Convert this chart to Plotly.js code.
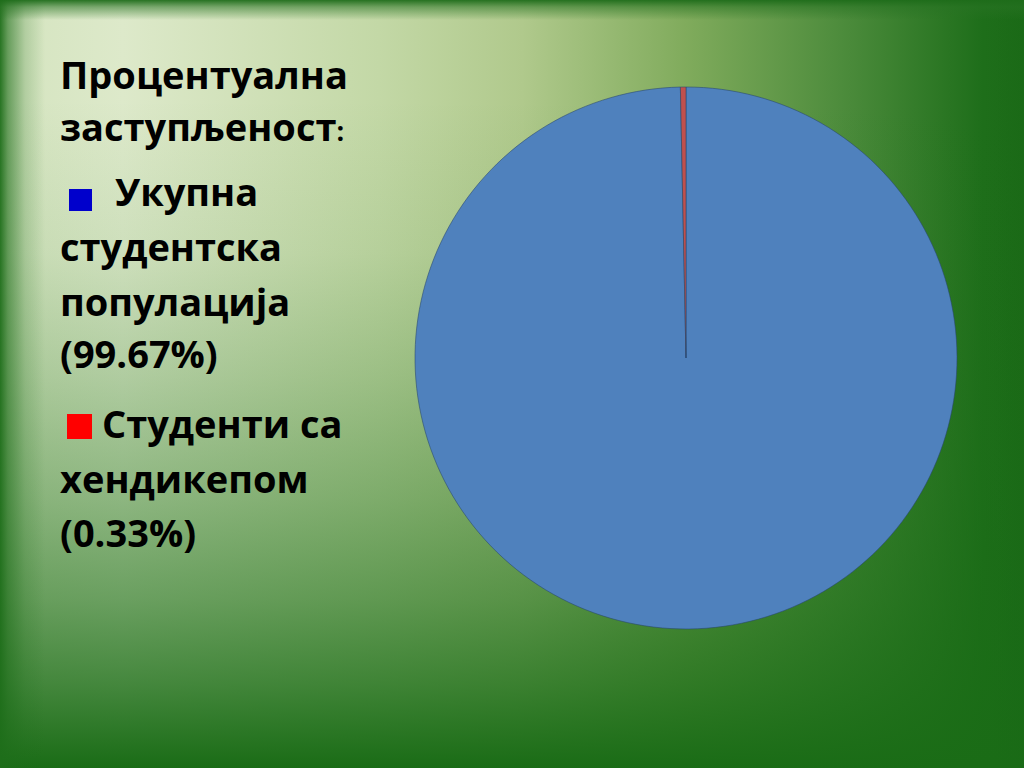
<!DOCTYPE html>
<html>
<head>
<meta charset="utf-8">
<script src="https://cdn.plot.ly/plotly-3.0.1.min.js"></script>
<style>
html,body{margin:0;padding:0;}
#chart{width:1024px;height:768px;
background:
 linear-gradient(to bottom, rgba(30,108,26,0.95) 0px, rgba(40,115,35,0.55) 7px, rgba(40,115,35,0) 20px),
 linear-gradient(to right, rgba(30,110,26,0.95) 0px, rgba(30,110,26,0.6) 8px, rgba(30,110,26,0.2) 25px, rgba(30,110,26,0) 45px),
 linear-gradient(to left, rgba(25,105,22,0.5) 0px, rgba(25,105,22,0) 30px),
 linear-gradient(to bottom, rgba(26,108,22,0) 13%, rgba(26,108,22,0.08) 33%, rgba(26,108,22,0.23) 49%, rgba(26,108,22,0.41) 65%, rgba(26,108,22,0.59) 78%, rgba(26,108,22,0.78) 89%, rgba(26,108,22,1) 100%),
 linear-gradient(to right, #d4e4bf 0%, #dde9ca 12%, #c3d8a6 37%, #b0c98c 51%, #80ab5c 67%, #4a8a3a 83%, #1e6e1a 96%, #1c6b18 100%);
}
</style>
</head>
<body>
<div id="chart"></div>
<script>
const categories = ["Укупна студентска популација", "Студенти са хендикепом"];
const percentages = [99.67, 0.33];
const sliceColors = ["#4f81bd", "#c0504d"];
const legendSwatchColors = ["#0000cc", "#ff0000"];
const titleLines = ["Процентуална", "заступљеност"];
const legendLines = [
  ["Укупна", "студентска", "популација", "(99.67%)"],
  ["Студенти са", "хендикепом", "(0.33%)"]
];

const W = 1024, H = 768;
const px = x => x / W;
const py = y => 1 - y / H;
const FONT = "Open Sans, Noto Sans, sans-serif";
const FS = 38;

const trace = {
  type: "pie",
  labels: categories,
  values: percentages,
  marker: {colors: sliceColors, line: {color: "rgba(40,70,110,0.7)", width: 0.8}},
  sort: false,
  direction: "clockwise",
  rotation: 0,
  textinfo: "none",
  hoverinfo: "label+percent",
  domain: {x: [px(415), px(957)], y: [py(629), py(87)]}
};

const ann = [];
function addLine(text, x, baseline) {
  ann.push({
    text: text, xref: "paper", yref: "paper",
    x: px(x), y: py(baseline + 11), xanchor: "left", yanchor: "bottom",
    showarrow: false, font: {family: FONT, size: FS, color: "#000000", weight: 700}
  });
}
addLine(titleLines[0], 58, 91);
addLine(titleLines[1] + '<span style="font-size:27px">:</span>', 58, 143);
addLine(legendLines[0][0], 113, 208);
addLine(legendLines[0][1], 58, 263);
addLine(legendLines[0][2], 58, 318);
addLine(legendLines[0][3], 58, 370);
addLine(legendLines[1][0], 100, 440);
addLine(legendLines[1][1], 58, 495);
addLine(legendLines[1][2], 58, 549);

const shapes = [
  {type: "rect", xref: "paper", yref: "paper", x0: px(69), x1: px(92), y0: py(211), y1: py(189),
   fillcolor: legendSwatchColors[0], line: {width: 0}},
  {type: "rect", xref: "paper", yref: "paper", x0: px(67), x1: px(92), y0: py(439), y1: py(414),
   fillcolor: legendSwatchColors[1], line: {width: 0}}
];

const layout = {
  width: W, height: H,
  margin: {l: 0, r: 0, t: 0, b: 0},
  paper_bgcolor: "rgba(0,0,0,0)",
  plot_bgcolor: "rgba(0,0,0,0)",
  showlegend: false,
  annotations: ann,
  shapes: shapes
};
Plotly.newPlot("chart", [trace], layout, {displayModeBar: false, staticPlot: true});
</script>
</body>
</html>
